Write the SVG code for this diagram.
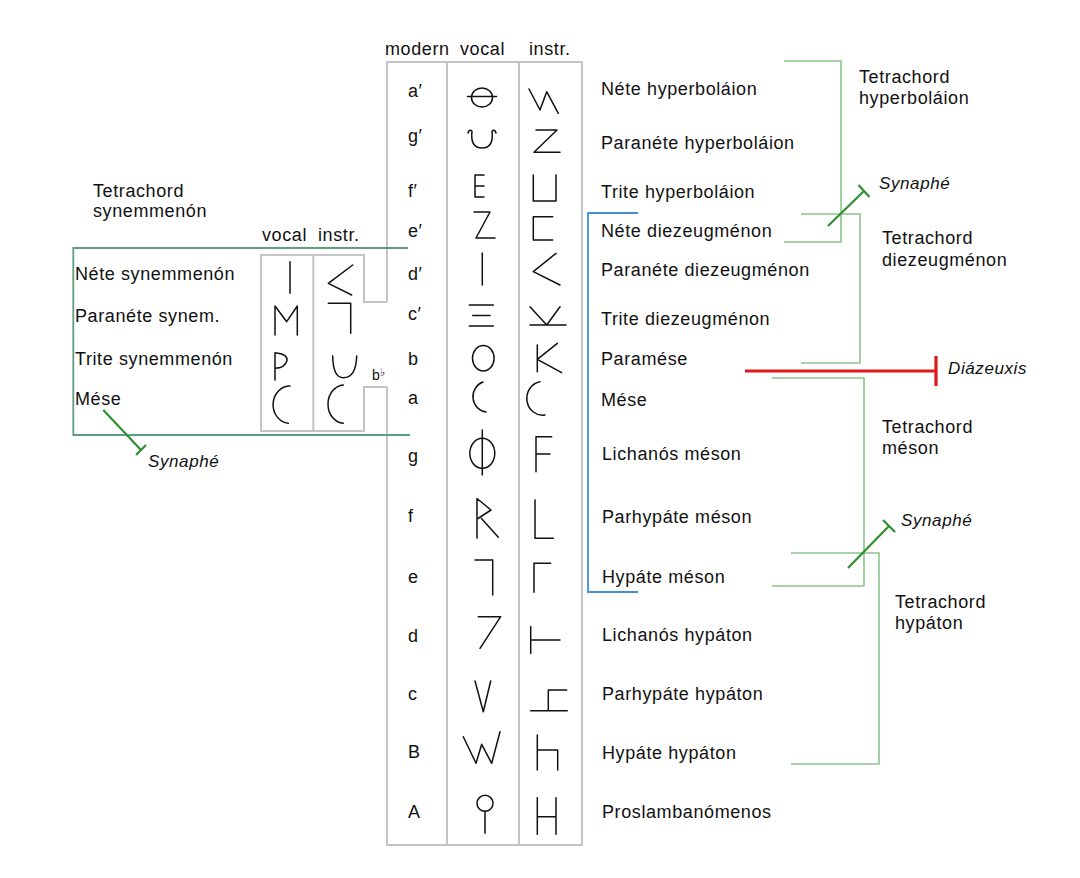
<svg xmlns="http://www.w3.org/2000/svg" width="1080" height="878" viewBox="0 0 1080 878">
<style>
text{font-family:"Liberation Sans",Arial,sans-serif;font-size:18px;fill:#111;letter-spacing:0.6px}
.it{font-style:italic;font-size:17px}
.grid{fill:none;stroke:#c4c4c4;stroke-width:2}
.sym{fill:none;stroke:#111;stroke-width:1.5;stroke-linecap:round;stroke-linejoin:round}
.br{fill:none;stroke:#8cc48c;stroke-width:1.6}
.brl{fill:none;stroke:#5c9e7e;stroke-width:1.8}
.syn{fill:none;stroke:#2f8f2f;stroke-width:2.2}
.blue{fill:none;stroke:#3f92d8;stroke-width:1.8}
.red{fill:none;stroke:#e01818;stroke-width:3.2}
</style>
<rect width="1080" height="878" fill="#fff"/>

<g id="main-table">
  <path class="grid" d="M387,302 L387,62 L582,62 L582,845 L387,845 L387,387"/>
  <line class="grid" x1="447" y1="62" x2="447" y2="845"/>
  <line class="grid" x1="519" y1="62" x2="519" y2="845"/>
  <text x="385" y="55">modern</text>
  <text x="460" y="55">vocal</text>
  <text x="529" y="55">instr.</text>
  <g id="modern-col">
    <text x="408" y="97">a′</text>
    <text x="408" y="142">g′</text>
    <text x="408" y="197">f′</text>
    <text x="408" y="237">e′</text>
    <text x="408" y="280">d′</text>
    <text x="408" y="320">c′</text>
    <text x="408" y="365">b</text>
    <text x="408" y="404">a</text>
    <text x="408" y="462">g</text>
    <text x="408" y="522">f</text>
    <text x="408" y="583">e</text>
    <text x="408" y="642">d</text>
    <text x="408" y="700">c</text>
    <text x="408" y="758">B</text>
    <text x="408" y="818">A</text>
  </g>
  <g id="vocal-col" class="sym">
    <ellipse cx="482" cy="97.5" rx="10.5" ry="9.5"/>
    <line x1="467.5" y1="96.5" x2="496.5" y2="96.5"/>
    <path d="M468,133 Q469,129 472,131 Q470,148 482,148 Q494,148 492,131 Q495,129 496,133"/>
    <path d="M484,175 L475,175 L475,197 L484,197 M475,186 L484,186"/>
    <path d="M474,212 L490,212 L476,238 L495,238"/>
    <line x1="482.3" y1="253" x2="482.3" y2="285"/>
    <path d="M469.3,305 L493.3,305 M472.7,315.5 L490,315.5 M469.3,326 L493.3,326"/>
    <ellipse cx="483.3" cy="358.3" rx="10.8" ry="12.8"/>
    <path d="M483,382 A15,15.5 0 0 0 486,412"/>
    <ellipse cx="482.3" cy="453.3" rx="12.5" ry="15"/>
    <line x1="482.3" y1="430" x2="482.3" y2="475"/>
    <path d="M477,538 L477,498.5 L491,510 L478,518.5 M481.5,518.5 L498.3,537.3"/>
    <path d="M475,560 L492.7,560 L492.7,595"/>
    <path d="M478.3,616.7 L500.7,616.7 L480,648.3"/>
    <path d="M475,681 L483.3,711.7 L490.7,681"/>
    <path d="M463.3,736.7 L476,763.3 L481.7,744.3 L491.7,763.3 L500,731.7"/>
    <circle cx="485" cy="803.3" r="8"/>
    <line x1="485" y1="811.3" x2="485" y2="833.3"/>
  </g>
  <g id="instr-col" class="sym">
    <path d="M529,89 L540,110 L546.7,91.7 L558.3,113.3"/>
    <path d="M536,130 L557,130 L534,152.3 L560,152.3"/>
    <path d="M533.3,175 L533.3,201 L556,201 L556,175"/>
    <path d="M552.7,216.7 L533.3,216.7 L533.3,240 L552.7,240"/>
    <path d="M556,253.3 L533.3,271.7 L560,285"/>
    <path d="M530,306.7 L546.7,325 L560,306.7 M530,325 L566,325"/>
    <path d="M537.3,345 L537.3,371.7 M557.3,343.3 L537.3,359.3 L561.7,372.7"/>
    <path d="M540,381.7 A15.5,16.7 0 0 0 545,415"/>
    <path d="M551.7,436.7 L536,436.7 L536,471.7 M536,454 L550,454"/>
    <path d="M535,500 L535,538.3 L553.3,538.3"/>
    <path d="M534,592.3 L534,563.3 L550.7,563.3"/>
    <path d="M530.7,626.7 L530.7,653.3 M530.7,640 L560,640"/>
    <path d="M530.7,710.7 L567.3,710.7 M548.3,710.7 L548.3,690 L566.7,690"/>
    <path d="M537.3,735 L537.3,770 M537.3,750 L557.7,750 L557.7,770"/>
    <path d="M537.3,797.7 L537.3,834.3 M556,797.7 L556,834.3 M537.3,816.7 L556,816.7"/>
  </g>
</g>

<g id="synemmenon-table">
  <path class="grid" d="M387,302 L364,302 L364,255 L261,255 L261,431 L364,431 L364,387 L387,387"/>
  <line class="grid" x1="313.3" y1="255" x2="313.3" y2="431"/>
  <text x="93" y="197">Tetrachord</text>
  <text x="93" y="217">synemmenón</text>
  <text x="262" y="241">vocal</text>
  <text x="318" y="241">instr.</text>
  <text x="75" y="280">Néte synemmenón</text>
  <text x="75" y="322">Paranéte synem.</text>
  <text x="75" y="365">Trite synemmenón</text>
  <text x="75" y="405">Mése</text>
  <text x="372" y="380" style="font-size:14px;letter-spacing:0">b<tspan font-size="11" dy="-4">♭</tspan></text>
  <g id="synemmenon-vocal" class="sym">
    <line x1="290" y1="261.7" x2="290" y2="293.3"/>
    <path d="M275,335 L275,306 L286.7,321.7 L297.3,306 L297.3,335"/>
    <path d="M275,380 L275,352.7 Q288,354 287,360.5 Q285,368 275,368.3"/>
    <path d="M290,386 A17,18.7 0 0 0 288.3,423.3"/>
  </g>
  <g id="synemmenon-instr" class="sym">
    <path d="M352.7,265 L328.3,283.3 L351.7,295"/>
    <path d="M328.3,303.3 L350.7,303.3 L350.7,333.3"/>
    <path d="M332.7,356 Q333,377.7 343.3,377.7 Q356,377.7 356.7,356"/>
    <path d="M343.3,385 A16.5,19.2 0 0 0 343.3,423.3"/>
  </g>
</g>

<g id="names">
  <text x="601" y="95">Néte hyperboláion</text>
  <text x="601" y="149">Paranéte hyperboláion</text>
  <text x="601" y="198">Trite hyperboláion</text>
  <text x="601" y="237">Néte diezeugménon</text>
  <text x="601" y="276">Paranéte diezeugménon</text>
  <text x="601" y="325">Trite diezeugménon</text>
  <text x="601" y="365">Paramése</text>
  <text x="601" y="406">Mése</text>
  <text x="602" y="460">Lichanós méson</text>
  <text x="602" y="523">Parhypáte méson</text>
  <text x="602" y="583">Hypáte méson</text>
  <text x="602" y="641">Lichanós hypáton</text>
  <text x="602" y="700">Parhypáte hypáton</text>
  <text x="602" y="759">Hypáte hypáton</text>
  <text x="602" y="818">Proslambanómenos</text>
</g>

<g id="tetrachord-labels">
  <text x="859" y="83">Tetrachord</text>
  <text x="859" y="104">hyperboláion</text>
  <text x="882" y="244">Tetrachord</text>
  <text x="882" y="266">diezeugménon</text>
  <text x="882" y="433">Tetrachord</text>
  <text x="882" y="454">méson</text>
  <text x="895" y="608">Tetrachord</text>
  <text x="895" y="629">hypáton</text>
  <text class="it" x="879" y="189">Synaphé</text>
  <text class="it" x="901" y="526">Synaphé</text>
  <text class="it" x="148" y="467">Synaphé</text>
  <text class="it" x="948" y="374">Diázeuxis</text>
</g>

<g id="connectors">
  <path class="brl" d="M408,248 L73.3,248 L73.3,435 L410,435"/>
  <path class="br" d="M784,61 L841,61 L841,242 L784,242"/>
  <path class="br" d="M801,214 L860,214 L860,363 L801,363"/>
  <path class="br" d="M772,378 L864,378 L864,586 L772,586"/>
  <path class="br" d="M791,553 L879,553 L879,764 L791,764"/>
  <path class="blue" d="M638,213 L588,213 L588,592 L638,592"/>
  <path class="syn" d="M828,226 L864,191 M858.5,185 L869.5,197"/>
  <path class="syn" d="M848,568 L889,526 M883,520 L895,532"/>
  <path class="syn" d="M103.3,410 L141,450 M136,455 L146,445"/>
  <path class="red" d="M745,371 L936,371 M936,356 L936,386"/>
</g>
</svg>
